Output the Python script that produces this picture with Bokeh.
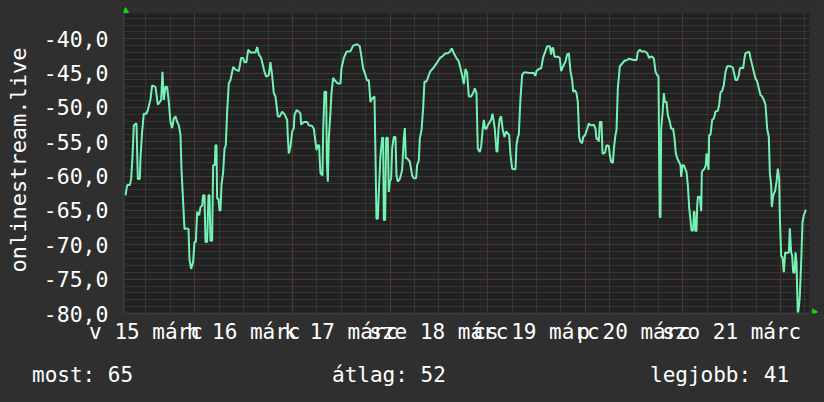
import math
from bokeh.plotting import figure
from bokeh.layouts import column
from bokeh.models import FixedTicker, Grid, Range1d, Div
from bokeh.embed import file_html
from bokeh.resources import INLINE

# time in hours since 15 March 00:00, value in dBm
hours = [6.96, 7.37, 8.02, 8.35, 8.68, 9.01, 9.66, 9.99, 10.48, 10.64, 11.05, 11.46, 12.12, 12.45, 13.10, 13.51,
         14.33, 14.91, 15.40, 15.73, 16.05, 16.38, 16.79, 17.20, 17.61, 18.02, 18.43, 18.84, 19.25, 19.66, 20.07,
         20.48, 20.72, 21.05, 21.46, 21.95, 22.45, 22.69, 23.10, 23.59, 23.92, 24.25, 24.58, 25.07, 25.40, 25.81,
         26.05, 26.38, 26.63, 27.03, 27.36, 27.61, 27.85, 28.26, 28.51, 28.92, 29.08, 29.33, 29.49, 29.82, 30.07,
         30.31, 30.56, 30.97, 31.30, 31.62, 31.95, 32.36, 32.77, 33.43, 34.00, 34.82, 35.39, 35.89, 36.21, 36.70,
         37.11, 37.69, 38.51, 38.92, 39.33, 39.74, 40.31, 40.80, 41.13, 41.54, 42.20, 42.60, 43.01, 43.42, 43.83,
         44.41, 44.90, 45.47, 46.05, 46.29, 46.70, 46.87, 47.11, 47.52, 47.93, 48.34, 48.51, 49.00, 49.57, 49.98,
         50.14, 50.80, 51.62, 52.03, 52.85, 53.26, 53.67, 53.91, 54.24, 54.57, 54.73, 54.90, 55.39, 55.55, 55.88,
         56.29, 56.46, 56.70, 56.95, 57.36, 57.60, 58.01, 58.59, 59.16, 59.82, 60.06, 60.63, 61.29, 62.27,
         62.93, 63.91, 64.56, 64.89, 65.38, 65.96, 66.37, 66.78, 67.19, 67.60, 68.17, 68.42, 68.66, 68.99, 69.24,
         69.65, 70.06, 70.30, 70.47, 70.79, 71.04, 71.45, 71.69, 71.94, 72.27, 72.51, 72.92, 73.33, 73.58, 73.91,
         74.40, 74.97, 75.38, 75.63, 75.87, 76.20, 76.86, 77.43, 77.84, 78.41, 78.66, 79.07, 79.32, 79.73, 80.14,
         80.46, 80.79, 81.12, 81.53, 81.94, 82.59, 83.17, 83.74, 84.40, 84.81, 85.63, 86.20, 86.69, 87.18, 87.67,
         88.33, 88.90, 89.31, 89.72, 90.13, 90.54, 90.95, 91.36, 91.94, 92.43, 92.84, 93.25, 93.57, 94.07, 94.39,
         94.72, 95.05, 95.38, 95.71, 96.03, 96.52, 96.85, 97.18, 97.51, 97.75, 98.00, 98.16, 98.41, 98.66, 98.98,
         99.31, 99.72, 100.13, 100.54, 100.95, 101.28, 101.61, 102.02, 102.43, 102.84, 103.08, 103.41, 103.65,
         104.06, 104.47, 104.88, 105.54, 106.52, 107.34, 107.75, 108.00, 108.57, 109.15, 109.64, 110.21, 110.62,
         111.28, 111.60, 111.85, 112.10, 112.42, 113.24, 113.73, 114.06, 114.55, 115.13, 115.54, 115.95, 116.36,
         116.77, 117.01, 117.42, 117.83, 118.16, 118.49, 118.82,
         119.23, 119.48, 119.97, 120.46, 120.87, 121.28, 121.69, 122.10, 122.51, 122.75, 123.08, 123.33, 123.57,
         123.98, 124.23, 124.56, 124.88, 125.21, 125.79, 126.03, 126.36, 126.77, 127.02, 127.42, 127.67, 128.00,
         128.49, 129.06, 129.64, 130.29, 130.70, 131.93, 132.59, 132.92, 133.41, 133.98, 134.39, 134.80, 135.21,
         135.70, 136.03, 136.44, 136.85, 137.26, 137.67, 138.00, 138.16, 138.32, 138.49, 138.65, 138.98, 139.31,
         139.55, 139.96, 140.29, 140.78, 141.11, 141.60, 141.93, 142.26, 142.59, 143.00, 143.41, 143.57, 143.90,
         144.22, 144.55, 144.88, 145.21, 145.53, 145.86, 146.11, 146.52, 146.68, 146.85, 147.09, 147.34, 147.50,
         147.67, 148.16, 148.49, 148.65, 148.98, 149.30, 149.63, 149.80, 149.96, 150.29, 150.45, 150.78, 151.19,
         151.60, 152.01, 152.58, 152.91, 153.24, 153.65, 154.06, 154.47, 154.88, 155.70, 156.27, 156.68, 156.93,
         157.34, 157.75, 157.99, 158.32, 158.81, 159.14, 159.38, 159.80, 160.29, 160.61, 161.02, 161.43, 161.84,
         162.25, 162.66, 163.07, 163.48, 163.89, 164.30, 164.71, 165.12, 165.37, 165.70, 165.86, 166.19, 166.68,
         167.01, 167.33, 167.66, 167.83, 168.15, 168.48, 168.81, 169.14, 169.63, 170.04, 170.28, 170.61, 170.86,
         171.10, 171.43, 171.68, 171.92, 172.25, 172.58, 172.74, 173.07, 173.40, 173.73, 174.14, 174.38]

signal = [-62.8, -61.3, -61.3, -60.4, -57.2, -52.6, -52.3, -60.4, -60.4, -57.4, -53.5, -50.9, -50.9, -50.4, -48.8, -46.8,
          -47.0, -49.6, -49.2, -48.9, -44.8, -48.9, -47.0, -47.0, -49.2, -52.1, -53.0, -51.6, -51.3, -52.1, -52.6,
          -54.0, -58.9, -62.8, -67.7, -67.6, -67.7, -72.1, -73.5, -72.5, -69.6, -69.6, -65.2, -65.7, -64.5, -64.3,
          -62.8, -62.8, -69.6, -69.6, -62.8, -62.8, -69.4, -69.4, -58.4, -58.4, -55.5, -55.5, -63.3, -63.3, -65.0,
          -65.0, -61.3, -59.4, -56.0, -55.5, -50.6, -46.5, -46.0, -44.1, -44.5, -44.7, -42.8, -42.8, -43.4, -43.4,
          -41.6, -42.0, -42.0, -42.0, -41.2, -42.3, -42.8, -44.0, -44.8, -45.5, -45.3, -43.4, -45.3, -47.9, -48.4,
          -51.3, -51.3, -50.6, -51.0, -51.3, -51.8, -54.3, -56.7, -55.7, -53.5, -53.0, -51.1, -50.4, -50.6, -50.9,
          -52.5, -52.1, -52.1, -52.6, -52.7, -53.1, -55.0, -56.2, -55.5, -55.5, -57.9, -59.6, -59.9, -53.5, -47.7,
          -47.7, -57.9, -60.8, -54.5, -50.6, -47.9, -45.7, -46.2, -46.5, -46.5, -44.3, -42.8, -41.9, -41.8,
          -41.0, -40.8, -41.1, -42.3, -44.3, -45.3, -46.1, -46.0, -49.2, -48.7, -48.4, -57.0, -66.2, -66.2, -62.3,
          -57.0, -54.4, -54.4, -66.4, -66.4, -54.4, -54.4, -62.3, -60.8, -60.4, -56.0, -54.3, -54.3, -59.9, -60.8,
          -60.4, -59.1, -54.5, -53.0, -57.4, -57.4, -57.9, -59.9, -60.3, -60.3, -58.4, -57.7, -54.5, -53.3, -50.1,
          -46.2, -46.3, -46.0, -45.3, -44.7, -44.3, -43.8, -43.3, -42.7, -42.6, -42.1, -42.1, -41.9, -41.4, -42.1,
          -42.8, -43.3, -44.3, -45.3, -46.6, -44.4, -45.0, -48.4, -48.4, -47.9, -47.2, -47.9, -56.0, -56.5, -55.7,
          -53.5, -51.8, -53.1, -53.1, -52.6, -52.1, -51.8, -50.9, -52.1, -53.1, -55.0, -56.4, -56.4, -53.1, -51.6,
          -51.3, -53.3, -54.3, -53.5, -53.8, -54.0, -56.9, -58.9, -59.0, -59.0, -55.5, -54.3, -54.0,
          -48.7, -45.3, -44.9, -44.9, -45.0, -45.0, -45.4, -44.7, -44.4, -44.3, -42.7, -41.8, -41.1,
          -41.1, -42.3, -41.4, -41.3, -42.6, -42.6, -42.8, -44.7, -44.0, -43.3, -42.3, -42.1, -44.7,
          -46.0, -47.7, -47.5, -47.9, -49.2, -54.3, -55.0,
          -55.2, -54.3, -54.0, -53.1, -52.3, -52.6, -52.6, -52.5, -53.1, -54.6, -54.5, -55.0, -52.1,
          -52.1, -56.7, -56.7, -56.5, -55.5, -55.6, -57.0, -57.9, -58.1, -56.0, -54.0, -53.3, -47.2,
          -44.0, -43.6, -43.2, -43.1, -42.9, -43.1, -43.1, -41.9, -41.6, -41.9, -41.8, -41.9, -42.1,
          -42.8, -42.6, -42.6, -42.9, -44.8, -45.3, -45.5, -57.9, -66.0, -66.0, -53.1, -50.9, -47.9,
          -49.2, -49.2, -51.1, -52.1, -53.1, -53.1, -54.5, -56.7, -57.4, -57.9, -58.4, -60.1, -58.4,
          -58.4, -58.9, -59.4, -61.3, -64.5, -66.4, -67.9, -67.9, -65.2, -65.2, -68.0, -68.0, -64.5,
          -63.0, -63.0, -65.1, -59.4, -59.1, -58.9, -58.4, -56.7, -57.4, -59.1, -54.0, -54.0, -51.8,
          -51.6, -50.6, -50.5, -49.6, -47.8, -47.6, -46.7, -44.8, -44.0, -44.0, -44.2, -45.3, -46.0,
          -46.0, -45.3, -44.3, -44.2, -44.3, -42.8, -42.1, -42.0, -41.9, -42.8, -43.8, -44.8, -45.8,
          -46.2, -47.2, -48.2, -48.4, -48.9, -49.6, -53.1, -54.3, -59.6, -61.3, -64.5, -62.8, -62.1,
          -60.8, -58.9, -60.4, -66.0, -71.6, -71.8, -74.0, -71.1, -71.2, -71.1, -67.6, -71.1, -71.6,
          -74.0, -74.1, -71.1, -72.5, -80.3, -78.6, -77.4, -72.5, -66.7, -65.7, -65.0, -65.0]

y_ticks = [-80, -75, -70, -65, -60, -55, -50, -45, -40]
y_tick_labels = ["-80,0", "-75,0", "-70,0", "-65,0", "-60,0", "-55,0", "-50,0", "-45,0", "-40,0"]
day_noons = [12, 36, 60, 84, 108, 132, 156]
day_labels = ["v 15 márc", "h 16 márc", "k 17 márc", "sze 18 márc", "cs 19 márc", "p 20 márc", "szo 21 márc"]
midnights = [24, 48, 72, 96, 120, 144, 168]
six_hours = [h for h in range(12, 176, 6)]
minor_y = [v for v in range(-80, -36)]
source_name = "onlinestream.live"
legend_texts = ["most: 65", "átlag: 52", "legjobb: 41"]

# data area (time window, value window) and the slightly larger frame that also holds the axis arrows
T0, T1 = 6.47, 175.1
V0, V1 = -80.0, -36.32
FT1, FV1 = 177.33, -35.30

FONT = "DejaVu Sans Mono"
OUTER = "#2f2f2f"
INNER = "#222222"
LINE = "#74f2b4"
ARROW = "#19d019"

p = figure(width=824, height=355, output_backend="svg", toolbar_location=None,
           x_range=Range1d(T0, FT1), y_range=Range1d(V0, FV1),
           min_border_left=123, min_border_right=6, min_border_top=6, min_border_bottom=42)
p.background_fill_color = INNER
p.border_fill_color = OUTER
p.outline_line_color = None
p.xgrid.visible = False
p.ygrid.visible = False

minor_style = dict(grid_line_color="#484848", grid_line_dash="1 1", grid_line_width=1)
major_style = dict(grid_line_color="#6a3030", grid_line_dash="1 1", grid_line_width=1)
p.add_layout(Grid(dimension=0, ticker=FixedTicker(ticks=six_hours), **minor_style))
p.add_layout(Grid(dimension=1, ticker=FixedTicker(ticks=minor_y), **minor_style))
p.add_layout(Grid(dimension=0, ticker=FixedTicker(ticks=midnights), **major_style))
p.add_layout(Grid(dimension=1, ticker=FixedTicker(ticks=y_ticks), **major_style))

# mask the margin strips of the frame (above and right of the data area) with the outer colour
p.quad(left=[T0, T1], right=[FT1, FT1], bottom=[V1, V0], top=[FV1, FV1],
       fill_color=OUTER, line_color=None)

p.line(hours, signal, line_color=LINE, line_width=2)

# axis arrows
p.scatter([T0 + 0.5], [V1 + 0.37], marker="triangle", size=6, fill_color=ARROW, line_color=ARROW)
p.scatter([T1 + 1.17], [V0 + 0.22], marker="triangle", angle=-math.pi / 2, size=6,
          fill_color=ARROW, line_color=ARROW)

xa = p.xaxis[0]
xa.ticker = FixedTicker(ticks=day_noons)
xa.major_label_overrides = {t: s for t, s in zip(day_noons, day_labels)}
xa.bounds = (T0, T1)
ya = p.yaxis[0]
ya.ticker = FixedTicker(ticks=y_ticks)
ya.major_label_overrides = {t: s for t, s in zip(y_ticks, y_tick_labels)}
ya.bounds = (V0, V1)
ya.axis_label = source_name
for ax in (xa, ya):
    ax.major_label_text_font = FONT
    ax.major_label_text_color = "#ffffff"
    ax.major_tick_in = 0
    ax.major_tick_out = 0
    ax.minor_tick_in = 0
    ax.minor_tick_out = 0
    ax.axis_line_color = "#3a3a3a"
    ax.axis_line_width = 2
xa.major_label_text_font_size = "21px"
ya.major_label_text_font_size = "21.5px"
xa.major_label_standoff = 6
ya.major_label_standoff = 15
ya.axis_label_text_font = FONT
ya.axis_label_text_font_size = "22px"
ya.axis_label_text_font_style = "normal"
ya.axis_label_text_color = "#ffffff"
ya.axis_label_standoff = 10

spans = "".join(
    '<span style="position:absolute;left:%dpx;top:8px;">%s</span>' % (x, t)
    for t, x in zip(legend_texts, [32, 332, 650]))
legend = Div(text='<div style="position:relative;width:824px;height:47px;font-family:\'DejaVu Sans Mono\';'
                  'font-size:21px;line-height:24px;color:#ffffff;white-space:pre;">%s</div>' % spans,
             width=824, height=47, margin=0)

layout = column(p, legend, spacing=0)
html = file_html(layout, INLINE)
html = html.replace("</head>", "<style>html,body{background:%s;margin:0;}</style></head>" % OUTER)
open("out.html", "w").write(html)
